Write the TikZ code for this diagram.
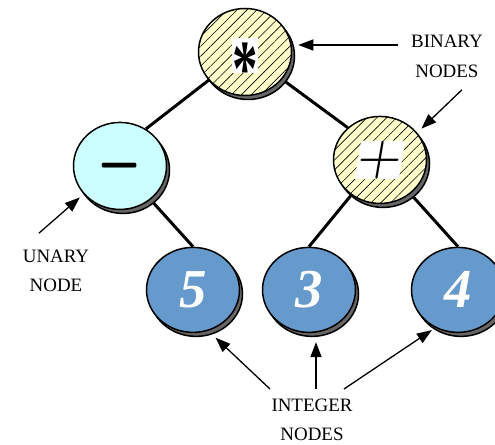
\documentclass[tikz,border=0pt]{standalone}
\usepackage{fontspec}
\setmainfont{Liberation Serif}
\usetikzlibrary{shapes.geometric, arrows.meta, patterns.meta, shadows, backgrounds}
\definecolor{hatchyellow}{HTML}{FFFFCC}
\definecolor{unarycyan}{HTML}{CCFFFF}
\definecolor{intblue}{HTML}{6699CC}
\tikzstyle{treenode} = [ellipse, draw=black, line width=1.5bp, minimum width=93bp, minimum
height=87bp, inner sep=0pt, drop shadow={shadow xshift=3bp, shadow yshift=-4bp, fill=black!60, draw=black, opacity=1}]
\tikzstyle{binarynode} = [treenode, fill=hatchyellow, postaction={pattern={Lines[angle=45,
distance=7bp, line width=0.6bp]}}]
\tikzstyle{unarynode} = [treenode, fill=unarycyan]
\tikzstyle{intnode} = [treenode, fill=intblue, minimum height=85bp, text=white,
font=\fontsize{55}{55}\selectfont\bfseries\itshape]
\tikzstyle{symbox} = [fill=white, inner sep=0pt]
\tikzstyle{infotext} = [align=center, font=\fontsize{19}{30}\selectfont]
\tikzstyle{edge} = [line width=3bp]
\tikzstyle{arrow} = [line width=1.3bp, -{Triangle[length=15bp, width=11bp]}]

\begin{document}
\begin{tikzpicture}[x=1bp, y=1bp]
    \useasboundingbox (0,0) rectangle (495,445);

    %Tree Nodes
    \node (mul) [binarynode, label={[symbox, minimum width=28.5bp, minimum height=28bp, xscale=0.8, yscale=1.25, yshift=-3bp,
        font=\fontsize{64}{64}\selectfont\bfseries]center:\smash{\raisebox{-31.5bp}{*}}}] at (245,393) {};
    \node (neg) [unarynode, below of=mul, xshift=-125bp, yshift=-85.6bp, label={[xscale=5.7, yscale=12]center:$-$}] {};
    \node (add) [binarynode, below of=mul, xshift=135bp, yshift=-79.6bp, label={[symbox, minimum width=7.7pt, minimum height=6.7pt, scale=5.7, xslant=0.17]center:$+$}] {};
    \node (five) [intnode, below of=neg, xshift=73bp, yshift=-95.6bp] {5};
    \node (three) [intnode, below of=add, xshift=-71bp, yshift=-101.6bp] {3};
    \node (four) [intnode, below of=add, xshift=78bp, yshift=-101.6bp] {4};

    %Info Nodes
    \node (binary) [infotext, right of=mul, xshift=173.6bp, yshift=-4bp] {BINARY\\NODES};
    \node (unary) [infotext, below of=neg, xshift=-64bp, yshift=-76.6bp] {UNARY\\NODE};
    \node (integer) [infotext, below of=three, xshift=3bp, yshift=-101.6bp] {INTEGER\\NODES};

    %Edges
    \begin{scope}[on background layer]
    \draw [edge] (mul.center) -- (neg.55);
    \draw [edge] (mul.center) -- (add.135);
    \draw [edge] (neg.center) -- (five.north);
    \draw [edge] (add.center) -- (three.north);
    \draw [edge] (add.center) -- (four.north);
    \end{scope}

    %Arrows
    \draw [arrow] ([xshift=-10bp, yshift=11bp]binary.west) -- ([xshift=6bp, yshift=7bp]mul.east);
    \draw [arrow] ([xshift=15bp, yshift=-9bp]binary.south) -- ([xshift=8bp]add.north east);
    \draw [arrow] ([xshift=-17bp, yshift=13bp]unary.north) -- ([xshift=-5bp, yshift=-2bp]neg.220);
    \draw [arrow] ([xshift=-42bp, yshift=6bp]integer.north) -- ([xshift=4bp, yshift=-8bp]five.295);
    \draw [arrow] ([xshift=4bp, yshift=6bp]integer.north) -- ([xshift=7bp, yshift=-9bp]three.south);
    \draw [arrow] ([xshift=32bp, yshift=6bp]integer.north) -- ([xshift=-2bp, yshift=-3bp]four.237);

\end{tikzpicture}
\end{document}
